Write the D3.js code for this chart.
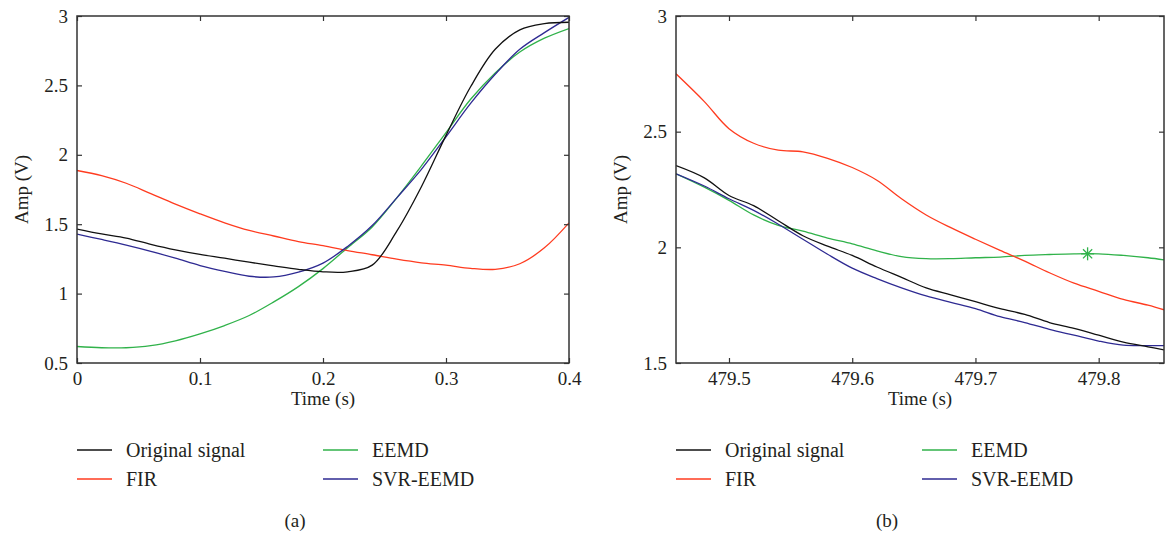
<!DOCTYPE html>
<html>
<head>
<meta charset="utf-8">
<script src="https://cdn.jsdelivr.net/npm/d3@7"></script>
<style>
  body { margin: 0; background: #fff; }
  text { font-family: "Liberation Serif", "DejaVu Serif", serif; fill: #231f20; }
</style>
</head>
<body>
<div id="chart-area"></div>
<script>
// panel (a)
var timeA = [0, 0.02, 0.04, 0.06, 0.08, 0.10, 0.12, 0.14, 0.16, 0.18, 0.20,
             0.22, 0.24, 0.26, 0.28, 0.30, 0.32, 0.34, 0.36, 0.38, 0.40];
var originalA = [1.465, 1.43, 1.40, 1.355, 1.315, 1.282, 1.255, 1.226, 1.20, 1.175, 1.157,
                 1.157, 1.205, 1.45, 1.77, 2.14, 2.49, 2.76, 2.90, 2.945, 2.955];
var firA = [1.887, 1.85, 1.795, 1.72, 1.645, 1.575, 1.51, 1.455, 1.415, 1.375, 1.345,
            1.31, 1.28, 1.248, 1.222, 1.205, 1.182, 1.175, 1.215, 1.33, 1.51];
var eemdA = [0.619, 0.61, 0.61, 0.625, 0.66, 0.71, 0.77, 0.842, 0.94, 1.05, 1.18,
             1.33, 1.48, 1.69, 1.92, 2.16, 2.40, 2.59, 2.74, 2.84, 2.91];
var svrA = [1.428, 1.39, 1.35, 1.305, 1.255, 1.202, 1.16, 1.125, 1.12, 1.155, 1.22,
            1.34, 1.49, 1.69, 1.895, 2.13, 2.37, 2.58, 2.76, 2.88, 2.99];
var xTicksA = [0, 0.1, 0.2, 0.3, 0.4];
var yTicksA = [0.5, 1, 1.5, 2, 2.5, 3];

// panel (b)
var timeB = [479.457, 479.48, 479.50, 479.52, 479.54, 479.56, 479.58, 479.60, 479.62, 479.64, 479.66,
             479.68, 479.70, 479.72, 479.74, 479.76, 479.78, 479.80, 479.82, 479.84, 479.853];
var originalB = [2.353, 2.30, 2.224, 2.18, 2.115, 2.05, 2.005, 1.965, 1.915, 1.87, 1.825,
                 1.795, 1.765, 1.735, 1.71, 1.675, 1.65, 1.62, 1.59, 1.57, 1.557];
var firB = [2.75, 2.63, 2.513, 2.45, 2.42, 2.413, 2.385, 2.345, 2.29, 2.21, 2.14,
            2.085, 2.035, 1.987, 1.94, 1.89, 1.845, 1.81, 1.775, 1.75, 1.73];
var eemdB = [2.318, 2.26, 2.203, 2.14, 2.095, 2.07, 2.04, 2.015, 1.985, 1.96, 1.951,
             1.951, 1.955, 1.958, 1.965, 1.969, 1.972, 1.972, 1.965, 1.955, 1.946];
var svrB = [2.318, 2.265, 2.21, 2.16, 2.10, 2.035, 1.97, 1.91, 1.865, 1.825, 1.79,
            1.762, 1.735, 1.70, 1.675, 1.645, 1.62, 1.595, 1.577, 1.575, 1.575];
var xTicksB = [479.5, 479.6, 479.7, 479.8];
var yTicksB = [1.5, 2, 2.5, 3];
var starB = [479.791, 1.972];

var seriesNames = ["Original signal", "FIR", "EEMD", "SVR-EEMD"];
var colors = ["#111111", "#ff3b1f", "#30b24a", "#2e2a92"];

var svg = d3.select("#chart-area").append("svg")
    .attr("width", 1165)
    .attr("height", 533);

function drawPanel(p) {
    var width = p.right - p.left;
    var height = p.bottom - p.top;
    var g = svg.append("g")
        .attr("transform", "translate(" + p.left + ", " + p.top + ")");

    var x = d3.scaleLinear().domain(p.xDomain).range([0, width]);
    var y = d3.scaleLinear().domain(p.yDomain).range([height, 0]);

    g.append("clipPath").attr("id", p.id + "-clip")
        .append("rect").attr("width", width).attr("height", height);

    var line = d3.line()
        .x((d) => x(d[0]))
        .y((d) => y(d[1]))
        .curve(d3.curveCatmullRom.alpha(0.5));

    var plot = g.append("g").attr("clip-path", "url(#" + p.id + "-clip)");
    // draw order: EEMD, FIR, SVR-EEMD, original on top
    [2, 1, 3, 0].forEach((k) => {
        var pts = p.time.map((t, i) => [t, p.series[k][i]]);
        plot.append("path")
            .attr("d", line(pts))
            .attr("fill", "none")
            .attr("stroke", colors[k])
            .attr("stroke-width", 1.3);
    });

    if (p.star) {
        var sx = x(p.star[0]), sy = y(p.star[1]), r = 6.5;
        var star = g.append("g").attr("stroke", colors[2]).attr("stroke-width", 1.3);
        [0, 45, 90, 135].forEach((a) => {
            var rad = a * Math.PI / 180;
            star.append("line")
                .attr("x1", sx - r * Math.cos(rad)).attr("y1", sy - r * Math.sin(rad))
                .attr("x2", sx + r * Math.cos(rad)).attr("y2", sy + r * Math.sin(rad));
        });
    }

    var fmt = p.fmt;
    var axes = [
        { ax: d3.axisBottom(x).tickValues(p.xTicks).tickFormat(fmt), tr: "translate(0," + height + ")" },
        { ax: d3.axisTop(x).tickValues(p.xTicks).tickFormat(""), tr: "translate(0,0)" },
        { ax: d3.axisLeft(y).tickValues(p.yTicks).tickFormat(d3.format("~g")), tr: "translate(0,0)" },
        { ax: d3.axisRight(y).tickValues(p.yTicks).tickFormat(""), tr: "translate(" + width + ",0)" }
    ];
    axes.forEach((a) => {
        var ag = g.append("g")
            .attr("transform", a.tr)
            .call(a.ax.tickSize(-5).tickSizeOuter(0).tickPadding(9));
        ag.select(".domain").remove();
        ag.selectAll("line").attr("stroke", "#333").attr("stroke-width", 1.2);
        ag.selectAll("text")
            .attr("font-size", "19px")
            .attr("font-family", "Liberation Serif, serif")
            .attr("fill", "#231f20");
    });

    g.append("rect")
        .attr("width", width)
        .attr("height", height)
        .attr("fill", "none")
        .attr("stroke", "#333")
        .attr("stroke-width", 1.5);

    // axis labels
    g.append("text")
        .attr("x", width / 2)
        .attr("y", height + 42)
        .attr("font-size", "19px")
        .attr("text-anchor", "middle")
        .text("Time (s)");
    g.append("text")
        .attr("x", -(height / 2))
        .attr("y", p.yLabelX - p.left)
        .attr("font-size", "19px")
        .attr("text-anchor", "middle")
        .attr("transform", "rotate(-90)")
        .text("Amp (V)");

    // legend
    var leg = svg.append("g");
    seriesNames.forEach((name, k) => {
        var col = k < 2 ? 0 : 1;
        var row = k % 2;
        var lx = p.left + col * 246;
        var ly = 450 + row * 29;
        leg.append("line")
            .attr("x1", lx).attr("x2", lx + 35)
            .attr("y1", ly).attr("y2", ly)
            .attr("stroke", colors[k])
            .attr("stroke-opacity", 0.75)
            .attr("stroke-width", 2);
        leg.append("text")
            .attr("x", lx + 49)
            .attr("y", ly + 7)
            .attr("font-size", "20px")
            .text(name);
    });

    svg.append("text")
        .attr("x", p.captionX)
        .attr("y", 527)
        .attr("font-size", "19px")
        .attr("text-anchor", "middle")
        .text(p.caption);
}

drawPanel({
    id: "a", left: 77, right: 569, top: 16, bottom: 363,
    xDomain: [0, 0.4], yDomain: [0.5, 3],
    time: timeA, series: [originalA, firA, eemdA, svrA],
    xTicks: xTicksA, yTicks: yTicksA, fmt: d3.format("~g"),
    yLabelX: 28, caption: "(a)", captionX: 295
});

drawPanel({
    id: "b", left: 676, right: 1164, top: 16, bottom: 363,
    xDomain: [479.457, 479.853], yDomain: [1.5, 3],
    time: timeB, series: [originalB, firB, eemdB, svrB],
    xTicks: xTicksB, yTicks: yTicksB, fmt: (d) => d.toFixed(1),
    yLabelX: 627, caption: "(b)", captionX: 887,
    star: starB
});
</script>
</body>
</html>
